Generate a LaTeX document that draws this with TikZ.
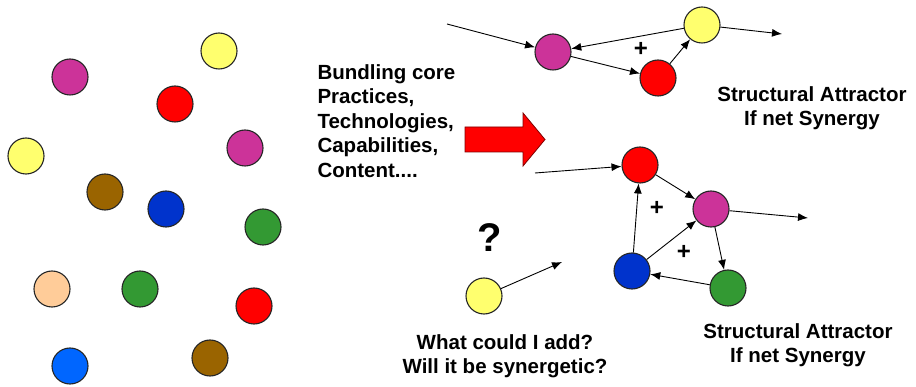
\documentclass[tikz,border=0pt]{standalone}
\usepackage{fontspec}
\setmainfont{Liberation Sans}
\usetikzlibrary{arrows.meta}
\definecolor{cyel}{HTML}{FFFF6E}
\definecolor{cmag}{HTML}{CC3399}
\definecolor{cred}{HTML}{FF0000}
\definecolor{cbrown}{HTML}{9A6400}
\definecolor{cblue}{HTML}{0033CC}
\definecolor{cgreen}{HTML}{339933}
\definecolor{cpeach}{HTML}{FFCC99}
\definecolor{clblue}{HTML}{0066FF}
\begin{document}
\begin{tikzpicture}[x=1pt,y=-1pt,
 ball/.style={circle,draw=black!85,line width=1.1pt,minimum size=36pt,inner sep=0pt},
 arr/.style={-{Latex[length=10pt,width=8pt]},line width=0.9pt},
 lbl/.style={font=\bfseries\fontsize{20.5}{24.5}\selectfont,align=center},
 plus/.style={font=\bfseries\fontsize{24}{26}\selectfont}]
\useasboundingbox[fill=white] (0,0) rectangle (916,387);
% scattered balls
\node[ball,fill=cyel]   (l1)  at (219,51) {};
\node[ball,fill=cmag]   (l2)  at (70,77) {};
\node[ball,fill=cred]   (l3)  at (175,104) {};
\node[ball,fill=cyel]   (l4)  at (26,156) {};
\node[ball,fill=cmag]   (l5)  at (245,148) {};
\node[ball,fill=cbrown] (l6)  at (105,192) {};
\node[ball,fill=cblue]  (l7)  at (166,209) {};
\node[ball,fill=cgreen] (l8)  at (263,227) {};
\node[ball,fill=cpeach] (l9)  at (52,289) {};
\node[ball,fill=cgreen] (l10) at (140,289) {};
\node[ball,fill=cred]   (l11) at (254,306) {};
\node[ball,fill=clblue] (l12) at (70,366) {};
\node[ball,fill=cbrown] (l13) at (210,358) {};
% text and big arrow
\node[lbl,anchor=west,align=left] (txt) at (314,121)
 {Bundling core\\Practices,\\Technologies,\\Capabilities,\\Content....};
\draw[fill=cred,draw=black!50!red,line width=0.8pt]
 (465,127) -- (523,127) -- (523,113) -- (545,139.5) -- (523,166) -- (523,152) -- (465,152) -- cycle;
% top cluster
\node[ball,fill=cmag] (tm) at (553,52) {};
\node[ball,fill=cyel] (ty) at (702,25) {};
\node[ball,fill=cred] (tr) at (658,78) {};
\coordinate (tin) at (447,24);
\coordinate (tout) at (782,34);
\draw[arr] (tin) -- (tm);
\draw[arr] (ty) -- (tm);
\draw[arr] (tm) -- (tr);
\draw[arr] (tr) -- (ty);
\draw[arr] (ty) -- (tout);
\node[plus] (tp) at (641,49) {+};
\node[lbl] (tl) at (812,108) {Structural Attractor\\If net Synergy};
% bottom cluster
\node[ball,fill=cred]   (br) at (640,165) {};
\node[ball,fill=cmag]   (bm) at (711,209) {};
\node[ball,fill=cblue]  (bb) at (632,271) {};
\node[ball,fill=cgreen] (bg) at (728,288) {};
\coordinate (bin) at (535,173);
\coordinate (bout) at (808,218);
\draw[arr] (bin) -- (br);
\draw[arr] (br) -- (bm);
\draw[arr] (bb) -- (br);
\draw[arr] (bb) -- (bm);
\draw[arr] (bm) -- (bg);
\draw[arr] (bg) -- (bb);
\draw[arr] (bm) -- (bout);
\node[plus] (bp1) at (657,208) {+};
\node[plus] (bp2) at (684,252) {+};
\node[lbl] (bl) at (798,345) {Structural Attractor\\If net Synergy};
% question
\node[ball,fill=cyel] (qy) at (484,296) {};
\coordinate (qout) at (562,262);
\draw[arr] (qy) -- (qout);
\node[font=\bfseries\fontsize{40}{44}\selectfont] (qm) at (490,238) {?};
\node[lbl] (ql) at (505,356) {What could I add?\\Will it be synergetic?};
\end{tikzpicture}
\end{document}
